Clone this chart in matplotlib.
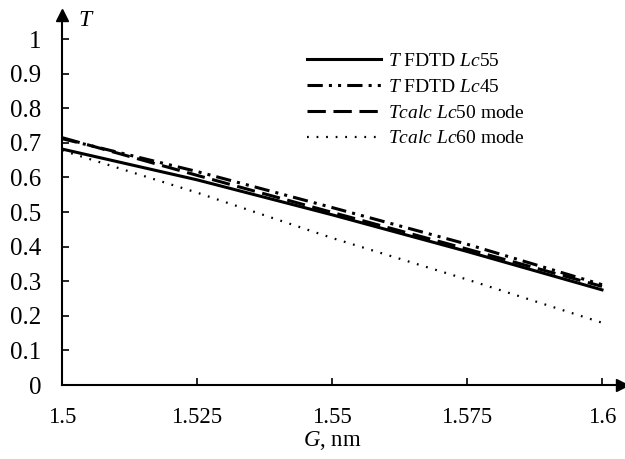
import matplotlib
matplotlib.use("Agg")
import matplotlib.pyplot as plt

plt.rcParams['font.family'] = ['Liberation Serif', 'DejaVu Serif']
plt.rcParams['mathtext.fontset'] = 'custom'
plt.rcParams['mathtext.rm'] = 'Liberation Serif'
plt.rcParams['mathtext.it'] = 'Liberation Serif:italic'

G = [1.5, 1.525, 1.55, 1.575, 1.6]
T_fdtd_lc55 = [0.682, 0.593, 0.492, 0.386, 0.275]
T_fdtd_lc45 = [0.712, 0.617, 0.513, 0.407, 0.290]
T_calc_lc50 = [0.715, 0.606, 0.499, 0.393, 0.285]
T_calc_lc60 = [0.678, 0.556, 0.425, 0.305, 0.180]

labels = ["$T$ FDTD $Lc$55", "$T$ FDTD $Lc$45", "$Tcalc$ $Lc$50 mode", "$Tcalc$ $Lc$60 mode"]
xticks = [1.5, 1.525, 1.55, 1.575, 1.6]
xticklabels = ["1.5", "1.525", "1.55", "1.575", "1.6"]
yticks = [0, 0.1, 0.2, 0.3, 0.4, 0.5, 0.6, 0.7, 0.8, 0.9, 1]
yticklabels = ["0", "0.1", "0.2", "0.3", "0.4", "0.5", "0.6", "0.7", "0.8", "0.9", "1"]

fig = plt.figure(figsize=(6.25, 4.59), dpi=100)
ax = fig.add_axes([62/625, 74/459, 560/625, 370/459])

ax.plot(G, T_fdtd_lc55, color='black', lw=2.2, ls='-', label=labels[0])
ax.plot(G, T_fdtd_lc45, color='black', lw=2.2, ls=(0, (5, 2, 1, 2, 1, 2)), label=labels[1])
ax.plot(G, T_calc_lc50, color='black', lw=2.2, ls=(0, (6, 2.5)), label=labels[2])
ax.plot(G, T_calc_lc60, color='black', lw=1.6, ls=(0, (0.8, 3.5)), label=labels[3])

ax.set_xlim(1.5, 1.5 + 0.1 * 560 / 540)
ax.set_ylim(0, 370 / 346)
ax.set_xticks(xticks)
ax.set_xticklabels(xticklabels)
ax.set_yticks(yticks)
ax.set_yticklabels(yticklabels)
ax.tick_params(direction='in', length=5, width=1.2)
ax.tick_params(axis='x', pad=16, labelsize=16.5)
ax.tick_params(axis='y', pad=15, labelsize=18)
for s in ['top', 'right']:
    ax.spines[s].set_visible(False)
for s in ['left', 'bottom']:
    ax.spines[s].set_linewidth(1.5)

ax.plot([1], [0], marker='>', color='black', ms=8, transform=ax.transAxes, clip_on=False)
ax.plot([0], [1], marker='^', color='black', ms=8, transform=ax.transAxes, clip_on=False)

fig.text(332/625, 1 - 441/459, "$G$, nm", fontsize=16.5, ha='center', va='center')
fig.text(78/625, 1 - 20/459, "$T$", fontsize=17, ha='left', va='center')

leg = ax.legend(loc='upper left', bbox_to_anchor=(289/625, 1 - 35/459), bbox_transform=fig.transFigure,
                frameon=False, fontsize=14, handlelength=3.85, handletextpad=0.35, labelspacing=0.42)

fig.savefig("out.png", dpi=100)
